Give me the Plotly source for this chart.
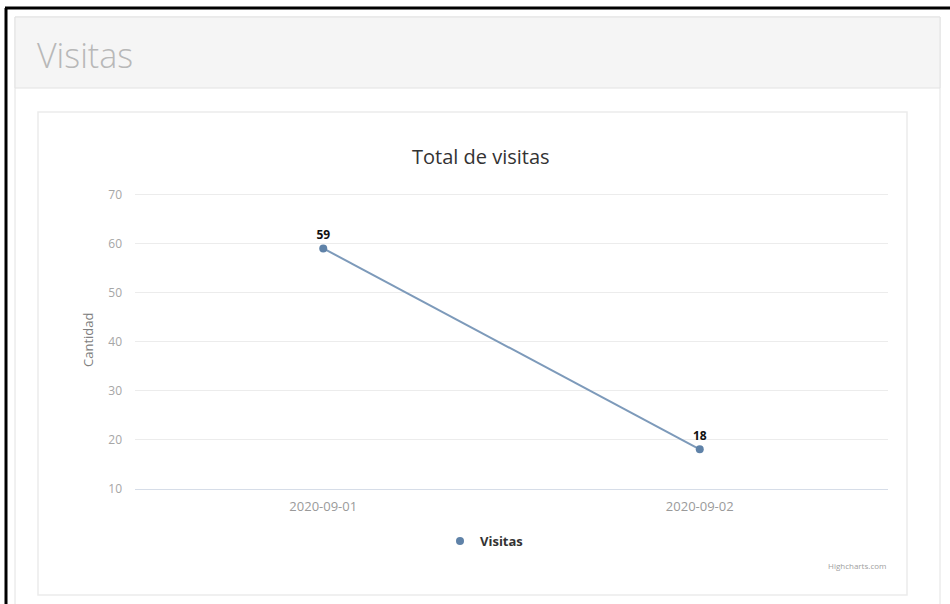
import plotly.graph_objects as go

categories = ["2020-09-01", "2020-09-02"]
visitas = [59, 18]
y_ticks = [10, 20, 30, 40, 50, 60, 70]

W, H = 950, 604


def px(x):
    return x / W


def py(y):
    return 1 - y / H


LINE = "#7d9aba"
MARK = "#5f82a8"

fig = go.Figure()
fig.add_trace(go.Scatter(
    x=categories, y=visitas, mode="lines+markers+text",
    text=[str(v) for v in visitas], textposition="top center",
    textfont=dict(family="Open Sans", size=12, color="#111", weight="bold"),
    line=dict(color=LINE, width=2),
    marker=dict(color=MARK, size=8),
    showlegend=False, hoverinfo="x+y", name="Visitas", cliponaxis=False,
))
fig.add_trace(go.Scatter(
    x=[None], y=[None], mode="markers", name="Visitas",
    marker=dict(color=MARK, size=8), showlegend=True,
))

shapes = [
    dict(type="rect", xref="paper", yref="paper", x0=px(15), x1=px(940), y0=py(612), y1=py(17),
         line=dict(color="#e2e2e2", width=1), fillcolor="white", layer="below"),
    dict(type="rect", xref="paper", yref="paper", x0=px(15), x1=px(940), y0=py(88), y1=py(17),
         line=dict(color="#e2e2e2", width=1), fillcolor="#f5f5f5", layer="below"),
    dict(type="rect", xref="paper", yref="paper", x0=px(38), x1=px(907), y0=py(595), y1=py(112),
         line=dict(color="#ebebeb", width=1.5), fillcolor="white", layer="below"),
    dict(type="line", xref="paper", yref="paper", x0=px(5), x1=px(950), y0=py(8), y1=py(8),
         line=dict(color="black", width=3)),
    dict(type="line", xref="paper", yref="paper", x0=px(6), x1=px(6), y0=py(8), y1=py(606),
         line=dict(color="black", width=3)),
]

annotations = [
    dict(text="Visitas", xref="paper", yref="paper", x=px(35), y=py(55), xanchor="left", yanchor="middle",
         showarrow=False, font=dict(family="Open Sans", size=34, color="#b8b8b8", weight=300)),
    dict(text="Total de visitas", xref="paper", yref="paper", x=px(481), y=py(157), xanchor="center",
         yanchor="middle", showarrow=False, font=dict(family="Open Sans", size=20, color="#333333")),
    dict(text="Cantidad", xref="paper", yref="paper", x=px(88), y=py(340), xanchor="center",
         yanchor="middle", textangle=-90, showarrow=False, font=dict(family="Open Sans", size=13, color="#808080")),
    dict(text="Highcharts.com", xref="paper", yref="paper", x=px(888), y=py(565), xanchor="right",
         yanchor="middle", showarrow=False, font=dict(family="Open Sans", size=8, color="#a0a0a0")),
]

# 70 at y=194.5 px, 10 at y=488.5 px; extend the axis 3 px above 70 so its gridline is drawn
per_px = 60 / 294
fig.update_layout(
    width=W, height=H,
    margin=dict(l=0, r=0, t=0, b=0),
    paper_bgcolor="white", plot_bgcolor="rgba(0,0,0,0)",
    shapes=shapes, annotations=annotations,
    xaxis=dict(domain=[px(135), px(888)], type="category", range=[-0.5, 1.5],
               showgrid=False, showline=True, linecolor="#d6dde8", linewidth=1,
               ticks="", tickfont=dict(family="Open Sans", size=13, color="#9a9a9a"),
               ticklabelstandoff=6,
               automargin=False, zeroline=False, fixedrange=True),
    yaxis=dict(domain=[py(488.5), py(191.5)], range=[10, 70 + 3 * per_px], tickvals=y_ticks,
               showgrid=True, gridcolor="#ececec", gridwidth=1, zeroline=False,
               tickfont=dict(family="Open Sans", size=12, color="#a6a6a6"), ticklabelstandoff=12,
               automargin=False, fixedrange=True),
    legend=dict(orientation="h", x=px(484), y=py(541), xanchor="center", yanchor="middle",
                font=dict(family="Open Sans", size=13, color="#333333", weight="bold"),
                bgcolor="rgba(0,0,0,0)", itemwidth=30),
    showlegend=True,
)

fig.write_html("out.html")
